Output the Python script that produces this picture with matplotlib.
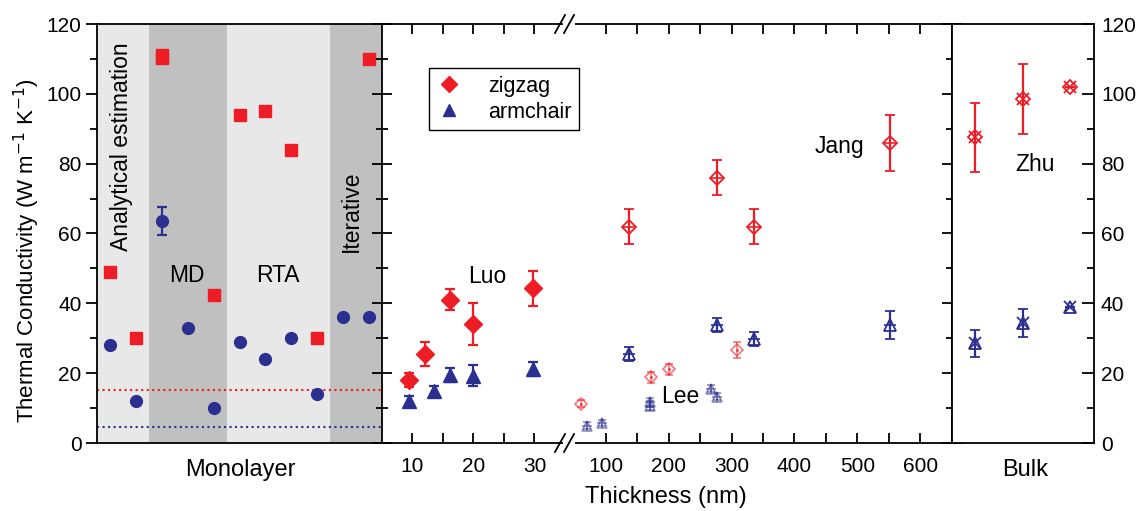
import matplotlib.pyplot as plt
from matplotlib.ticker import MultipleLocator, FixedLocator
from matplotlib.lines import Line2D
from matplotlib.patches import Rectangle

plt.rcParams['font.family'] = ['Liberation Sans', 'DejaVu Sans']
plt.rcParams['font.size'] = 15

red = '#ee1c24'
blue = '#2b3090'

# ---------------- data ----------------
# monolayer (slot index along the panel)
mono_red_x = [0, 1, 2, 2, 4, 5, 6, 7, 8, 10]
mono_red_y = [49, 30, 111.2, 110.2, 42.5, 94, 95, 84, 30, 110]
mono_blue_x = [0, 1, 2, 3, 4, 5, 6, 7, 8, 9, 10]
mono_blue_y = [28, 12, 63.5, 33, 10, 29, 24, 30, 14, 36, 36]
mono_blue_err = [0, 0, 4, 0, 0, 0, 0, 0, 0, 0, 0]
mono_bands = [(-0.5, 1.5, 'light'), (1.5, 4.5, 'dark'), (4.5, 8.5, 'light'), (8.5, 10.5, 'dark')]
zz_limit = 15.3
ac_limit = 4.5

# Luo (thin, nm)
luo_zz_x = [9.5, 12.1, 16.1, 20, 29.7]
luo_zz_y = [18, 25.5, 41, 34, 44.3]
luo_zz_err = [2, 3.5, 3, 6, 5]
luo_ac_x = [9.5, 13.5, 16.1, 20, 29.7]
luo_ac_y = [12, 15, 19.5, 19.3, 21.2]
luo_ac_err = [1.4, 1.3, 2, 3, 2]

# Jang
jang_zz_x = [137, 277, 335, 552]
jang_zz_y = [62, 76, 62, 86]
jang_zz_err = [5, 5, 5, 8]
jang_ac_x = [137, 277, 335, 552]
jang_ac_y = [25.5, 33.8, 29.8, 33.8]
jang_ac_err = [2, 2, 2, 4]

# Lee
lee_zz_x = [60, 172, 201, 308]
lee_zz_y = [11.3, 18.8, 21.1, 26.6]
lee_zz_err = [1, 1.5, 1.5, 2.2]
lee_ac_x = [70, 94, 170, 170, 268, 277]
lee_ac_y = [5, 5.8, 11.7, 10.7, 15.5, 13.3]
lee_ac_err = [1, 0.8, 1.3, 1.3, 1, 1]

# Zhu (bulk)
bulk_x = [0.5, 1.5, 2.5]
bulk_zz_y = [87.5, 98.5, 102]
bulk_zz_err = [10, 10, 0]
bulk_ac_y = [28.5, 34.5, 39]
bulk_ac_err = [4, 4, 0]

# ---------------- figure ----------------
W, H = 1138, 511
fig = plt.figure(figsize=(W / 100, H / 100), dpi=100)


def box(x0, x1):
    return [x0 / W, 1 - 443 / H, (x1 - x0) / W, 419 / H]


ax_m = fig.add_axes(box(97, 382))
ax_a = fig.add_axes(box(382, 568))
ax_b = fig.add_axes(box(568, 951.7))
ax_c = fig.add_axes(box(951.7, 1094))

for ax in (ax_m, ax_a, ax_b, ax_c):
    ax.set_ylim(0, 120)
    ax.yaxis.set_major_locator(MultipleLocator(20))
    ax.yaxis.set_minor_locator(MultipleLocator(10))
    for s in ax.spines.values():
        s.set_linewidth(1.3)

ebkw = dict(capsize=3.5, elinewidth=1.6, capthick=1.6)
ann = 16.5

# ---- monolayer panel ----
ax_m.set_xlim(-0.5, 10.5)
for x0, x1, kind in mono_bands:
    ax_m.axvspan(x0, x1, color='#e8e8e8' if kind == 'light' else '#c0c0c0', lw=0, zorder=0)
ax_m.axhline(zz_limit, color=red, ls=':', lw=1.5, zorder=1)
ax_m.axhline(ac_limit, color=blue, ls=':', lw=1.5, zorder=1)
ax_m.plot(mono_red_x, mono_red_y, 's', color=red, ms=8, ls='none', zorder=3)
ax_m.errorbar(mono_blue_x, mono_blue_y, yerr=mono_blue_err, fmt='o', color=blue, ms=8.5, zorder=3, **ebkw)
ax_m.set_xticks([])
ax_m.spines['right'].set_visible(False)
ax_m.tick_params(axis='y', which='major', direction='out', length=8, width=1.3, pad=3)
ax_m.tick_params(axis='y', which='minor', direction='out', length=5, width=1.3)
ax_m.text(0.45, 85, 'Analytical estimation', rotation=90, ha='center', va='center', fontsize=ann)
ax_m.text(2.96, 48, 'MD', ha='center', va='center', fontsize=ann)
ax_m.text(6.5, 48, 'RTA', ha='center', va='center', fontsize=ann)
ax_m.text(9.3, 66.5, 'Iterative', rotation=90, ha='center', va='center', fontsize=ann)

# ---- thickness panel, left segment ----
ax_a.set_xlim(5, 35.5)
ax_a.xaxis.set_major_locator(FixedLocator([10, 20, 30]))
ax_a.xaxis.set_minor_locator(FixedLocator([15, 25]))
ax_a.spines['right'].set_visible(False)
ax_a.tick_params(axis='x', which='both', direction='in', top=True, length=7, width=1.3, pad=10)
ax_a.tick_params(axis='y', which='major', direction='inout', length=14, width=1.3, labelleft=False)
ax_a.tick_params(axis='y', which='minor', direction='inout', length=9, width=1.3)
ax_a.errorbar(luo_zz_x, luo_zz_y, yerr=luo_zz_err, fmt='D', color=red, ms=9.5, zorder=3, **ebkw)
ax_a.errorbar(luo_ac_x, luo_ac_y, yerr=luo_ac_err, fmt='^', color=blue, ms=10, zorder=3, **ebkw)
ax_a.text(22.3, 47.6, 'Luo', ha='center', va='center', fontsize=ann)

# ---- thickness panel, right segment ----
ax_b.set_xlim(40, 650)
ax_b.xaxis.set_major_locator(FixedLocator([100, 200, 300, 400, 500, 600]))
ax_b.xaxis.set_minor_locator(FixedLocator([150, 250, 350, 450, 550]))
ax_b.spines['left'].set_visible(False)
ax_b.tick_params(axis='x', which='both', direction='in', top=True, length=7, width=1.3, pad=10)
ax_b.tick_params(axis='y', which='major', direction='inout', length=14, width=1.3,
                 left=False, labelleft=False, right=True)
ax_b.tick_params(axis='y', which='minor', direction='inout', length=9, width=1.3, left=False, right=True)

light_red = (0.93, 0.11, 0.14, 0.6)
light_blue = (0.17, 0.19, 0.56, 0.55)
ax_b.errorbar(lee_zz_x, lee_zz_y, yerr=lee_zz_err, fmt='D', mfc='none', mec=light_red, ecolor=light_red,
              ms=6.5, mew=1.2, capsize=3, elinewidth=1.1, capthick=1.1, zorder=3)
ax_b.plot(lee_zz_x, lee_zz_y, '.', color=light_red, ms=2.5, zorder=4)
ax_b.errorbar(lee_ac_x, lee_ac_y, yerr=lee_ac_err, fmt='^', mfc='none', mec=light_blue, ecolor=light_blue,
              ms=7.5, mew=1.2, capsize=3, elinewidth=1.1, capthick=1.1, zorder=3)
ax_b.plot(lee_ac_x, lee_ac_y, '+', color=light_blue, ms=7, mew=1.2, zorder=4)

ax_b.errorbar(jang_zz_x, jang_zz_y, yerr=jang_zz_err, fmt='D', mfc='none', mec=red, ecolor=red,
              ms=7, mew=1.3, zorder=3, **ebkw)
ax_b.plot(jang_zz_x, jang_zz_y, '+', color=red, ms=9, mew=1.2, zorder=4)
ax_b.errorbar(jang_ac_x, jang_ac_y, yerr=jang_ac_err, fmt='^', mfc='none', mec=blue, ecolor=blue,
              ms=8, mew=1.3, zorder=3, **ebkw)
ax_b.plot(jang_ac_x, jang_ac_y, '+', color=blue, ms=9, mew=1.2, zorder=4)
ax_b.text(219, 13.2, 'Lee', ha='center', va='center', fontsize=ann)
ax_b.text(472, 84.8, 'Jang', ha='center', va='center', fontsize=ann)

# axis break marks
for yy in (24, 443):
    fig.patches.append(Rectangle((563 / W, 1 - (yy + 3) / H), 12 / W, 6 / H, transform=fig.transFigure,
                                 facecolor='white', edgecolor='none', zorder=5))
    for dx in (0, 9):
        fig.lines.append(Line2D([(555 + dx) / W, (565 + dx) / W], [1 - (yy + 9) / H, 1 - (yy - 9) / H],
                                transform=fig.transFigure, color='black', lw=1.3, zorder=6))

# ---- bulk panel ----
ax_c.set_xlim(0, 3)
ax_c.set_xticks([])
ax_c.tick_params(axis='y', which='both', left=False, labelleft=False, right=True, labelright=True,
                 direction='in', width=1.3, pad=5)
ax_c.tick_params(axis='y', which='major', length=9)
ax_c.tick_params(axis='y', which='minor', length=5)
ax_c.errorbar(bulk_x, bulk_zz_y, yerr=bulk_zz_err, fmt='D', mfc='none', mec=red, ecolor=red,
              ms=7, mew=1.3, zorder=3, **ebkw)
ax_c.plot(bulk_x, bulk_zz_y, 'x', color=red, ms=8, mew=1.3, zorder=4)
ax_c.errorbar(bulk_x, bulk_ac_y, yerr=bulk_ac_err, fmt='^', mfc='none', mec=blue, ecolor=blue,
              ms=8, mew=1.3, zorder=3, **ebkw)
ax_c.plot(bulk_x, bulk_ac_y, 'x', color=blue, ms=8, mew=1.3, zorder=4)
ax_c.text(1.76, 79.7, 'Zhu', ha='center', va='center', fontsize=ann)

# ---- labels ----
fig.text(27 / W, 1 - 251 / H, 'Thermal Conductivity (W m$^{-1}$ K$^{-1}$)', rotation=90,
         ha='center', va='center', fontsize=16)
fig.text(240 / W, 1 - 470 / H, 'Monolayer', ha='center', va='center', fontsize=17)
fig.text(666 / W, 1 - 497 / H, 'Thickness (nm)', ha='center', va='center', fontsize=17)
fig.text(1025 / W, 1 - 470 / H, 'Bulk', ha='center', va='center', fontsize=17)

handles = [Line2D([], [], marker='D', color=red, ls='none', ms=8),
           Line2D([], [], marker='^', color=blue, ls='none', ms=9)]
leg = fig.legend(handles, ['zigzag', 'armchair'], loc='upper left', bbox_to_anchor=(429 / W, 1 - 68 / H),
                 borderaxespad=0, fancybox=False, edgecolor='black', framealpha=1, fontsize=15.5,
                 handlelength=1.2, handletextpad=1.2, borderpad=0.35, labelspacing=0.25)
leg.get_frame().set_linewidth(1.0)

fig.savefig('out.png', dpi=100)
